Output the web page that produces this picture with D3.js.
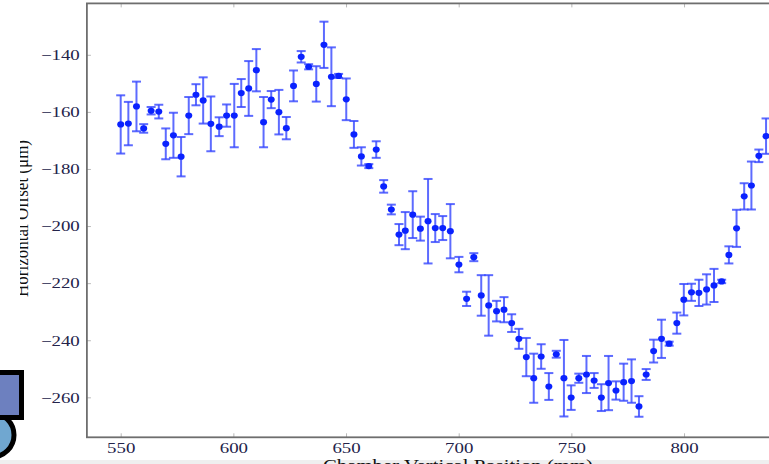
<!DOCTYPE html>
<html>
<head>
<meta charset="utf-8">
<script src="https://cdn.jsdelivr.net/npm/d3@7"></script>
<style>
  html, body { margin: 0; padding: 0; background: #fff; }
  svg { display: block; }
</style>
</head>
<body>
<figure id="chart" style="margin:0"></figure>
<script>
// chamber vertical position (mm)
const positions = [
  550.0, 553.4, 557.0, 560.2, 563.5, 566.9, 570.0, 573.4, 576.8, 580.2,
  583.4, 586.6, 590.0, 593.7, 597.0, 600.4, 603.5, 606.8, 610.2, 613.4,
  616.8, 620.2, 623.5, 626.7, 630.1, 633.4, 636.8, 640.2, 643.5, 646.7,
  650.1, 653.5, 656.8, 660.1, 663.4, 666.7, 670.1, 673.5, 676.3, 679.6,
  683.0, 686.4, 689.6, 692.9, 696.3, 700.1, 703.5, 706.7, 710.0, 713.3,
  716.8, 720.1, 723.5, 726.7, 730.0, 733.3, 736.6, 740.0, 743.3, 746.7,
  749.9, 753.3, 756.7, 760.1, 763.3, 766.5, 769.8, 773.2, 776.7, 780.0,
  783.2, 786.5, 790.0, 793.4, 796.8, 799.9, 803.3, 806.6, 810.0, 813.3,
  816.7, 819.9, 823.3, 826.7, 829.9, 833.2, 836.4
];
// horizontal offset (um)
const offsets = [
  -164.4, -164.1, -158.1, -165.8, -159.6, -159.9, -171.2, -168.2, -175.7, -161.3,
  -154.0, -156.0, -164.2, -165.2, -161.3, -161.3, -153.4, -151.8, -145.4, -163.6,
  -155.7, -160.1, -165.7, -150.9, -140.7, -144.2, -150.2, -136.5, -147.7, -147.4,
  -155.6, -167.9, -175.6, -179.0, -173.2, -186.1, -194.2, -203.0, -201.6, -196.0,
  -200.9, -198.3, -200.7, -200.7, -201.8, -213.5, -225.5, -210.9, -224.3, -227.8,
  -229.8, -229.3, -234.0, -239.5, -245.9, -253.3, -245.7, -256.2, -244.9, -253.3,
  -260.1, -253.3, -252.0, -254.1, -260.1, -255.0, -257.6, -254.7, -254.3, -263.2,
  -252.0, -243.8, -239.5, -241.2, -234.0, -225.8, -223.2, -223.4, -222.2, -220.8,
  -219.4, -210.1, -200.8, -189.6, -185.8, -175.4, -168.5
];
// error (um)
const errors = [
  10.2, 7.6, 8.7, 1.5, 1.3, 2.4, 5.4, 7.9, 6.9, 6.5,
  3.7, 8.1, 9.6, 3.3, 3.9, 11.1, 4.9, 9.6, 7.4, 8.8,
  3.0, 7.8, 3.9, 5.4, 2.0, 0.9, 6.2, 8.1, 10.3, 0.7,
  7.3, 4.7, 3.2, 0.7, 2.9, 2.2, 1.7, 3.7, 6.5, 8.2,
  4.2, 14.8, 4.9, 4.2, 9.5, 2.7, 2.5, 1.4, 7.1, 10.6,
  3.6, 4.4, 3.1, 3.5, 6.7, 8.6, 4.3, 4.7, 1.2, 13.4,
  4.3, 1.6, 6.5, 2.6, 4.7, 9.5, 3.2, 6.5, 7.6, 3.6,
  1.9, 4.0, 6.7, 0.7, 3.7, 5.5, 3.0, 4.6, 5.3, 5.8,
  0.6, 3.0, 6.5, 4.6, 8.4, 2.2, 6.2
];
const xTicks = [550, 600, 650, 700, 750, 800];
const yTicks = [-140, -160, -180, -200, -220, -240, -260];
const xTitle = "Chamber Vertical Position (mm)";
const yTitle = "Horizontal Offset (\u03bcm)";

const width = 769;
const height = 464;
const stretch = 1.3;   // the original picture is squeezed wider than tall

const points = positions.map((p, i) => ({ x: p, y: offsets[i], e: errors[i] }));

const x = d3.scaleLinear().domain([535, 850]).range([86.9, 796.7]);
const y = d3.scaleLinear().domain([-274, -122]).range([437.3, 3.4]);

const svg = d3.select("#chart")
  .append("svg")
  .attr("width", width)
  .attr("height", height);

// grey band along the bottom edge
svg.append("rect")
  .attr("x", 0).attr("y", 460)
  .attr("width", width).attr("height", 4)
  .style("fill", "#efefef");

// ticks, pointing inward
const tickStyle = g => {
  g.select(".domain").remove();
  g.selectAll(".tick line").style("stroke", "#b8b8b8").style("stroke-width", 1);
};

svg.append("g")
  .attr("transform", "translate(0," + y.range()[0] + ")")
  .call(d3.axisBottom(x).tickValues(xTicks).tickSize(-4).tickFormat(d3.format("d")))
  .call(tickStyle)
  .call(g => g.selectAll(".tick text")
    .attr("y", 15.4).attr("dy", 0)
    .attr("transform", "scale(" + stretch + ",1)")
    .style("font-family", "'Liberation Serif', serif")
    .style("font-size", "14.5px")
    .style("fill", "#23234a"));

svg.append("g")
  .attr("transform", "translate(0," + y.range()[1] + ")")
  .call(d3.axisTop(x).tickValues(xTicks).tickSize(-4).tickFormat(""))
  .call(tickStyle);

svg.append("g")
  .attr("transform", "translate(" + x.range()[0] + ",0)")
  .call(d3.axisLeft(y).tickValues(yTicks).tickSize(-4).tickFormat(d3.format("d")))
  .call(tickStyle)
  .call(g => g.selectAll(".tick text")
    .attr("x", -5.5).attr("dy", "0.33em")
    .attr("transform", "scale(" + stretch + ",1)")
    .style("font-family", "'Liberation Serif', serif")
    .style("font-size", "14.5px")
    .style("fill", "#23234a"));

// frame
svg.append("rect")
  .attr("x", x.range()[0])
  .attr("y", y.range()[1])
  .attr("width", x.range()[1] - x.range()[0])
  .attr("height", y.range()[0] - y.range()[1])
  .style("fill", "none")
  .style("stroke", "#6e6e6e")
  .style("stroke-width", 1.8);

// error bars
const bars = svg.append("g").attr("class", "errorbars")
  .style("stroke", "#3546ff")
  .style("stroke-opacity", 0.8)
  .style("stroke-width", 2)
  .selectAll("g")
  .data(points)
  .join("g");

bars.append("line")
  .attr("x1", d => x(d.x)).attr("x2", d => x(d.x))
  .attr("y1", d => y(d.y + d.e)).attr("y2", d => y(d.y - d.e));
bars.append("line")
  .attr("x1", d => x(d.x) - 4.5).attr("x2", d => x(d.x) + 4.5)
  .attr("y1", d => y(d.y + d.e)).attr("y2", d => y(d.y + d.e));
bars.append("line")
  .attr("x1", d => x(d.x) - 4.5).attr("x2", d => x(d.x) + 4.5)
  .attr("y1", d => y(d.y - d.e)).attr("y2", d => y(d.y - d.e));

// markers
svg.append("g")
  .selectAll("ellipse")
  .data(points)
  .join("ellipse")
  .attr("cx", d => x(d.x))
  .attr("cy", d => y(d.y))
  .attr("rx", 3.5)
  .attr("ry", 3.1)
  .style("fill", "#0a22ff");

// axis titles
svg.append("text")
  .attr("x", 458).attr("y", 471)
  .attr("text-anchor", "middle")
  .attr("textLength", 270)
  .attr("lengthAdjust", "spacingAndGlyphs")
  .style("font-family", "'Liberation Serif', serif")
  .style("font-size", "17px")
  .style("fill", "#111")
  .text(xTitle);

svg.append("text")
  .attr("transform", "translate(28,218.5) scale(" + stretch + ",1) rotate(-90)")
  .attr("text-anchor", "middle")
  .attr("textLength", 157)
  .attr("lengthAdjust", "spacingAndGlyphs")
  .style("font-family", "'Liberation Serif', serif")
  .style("font-size", "15px")
  .style("fill", "#111")
  .text(yTitle);

// the slide hides the left part of the y title
svg.append("rect")
  .attr("x", 0).attr("y", 110)
  .attr("width", 20).attr("height", 210)
  .style("fill", "#fff");

// slide decoration in the lower left corner
svg.append("circle")
  .attr("cx", -8).attr("cy", 435).attr("r", 22)
  .style("fill", "#70a7d0")
  .style("stroke", "#000")
  .style("stroke-width", 5);

svg.append("rect")
  .attr("x", -10).attr("y", 372.5)
  .attr("width", 31.5).attr("height", 45)
  .style("fill", "#6d80bf")
  .style("stroke", "#000")
  .style("stroke-width", 5);
</script>
</body>
</html>
